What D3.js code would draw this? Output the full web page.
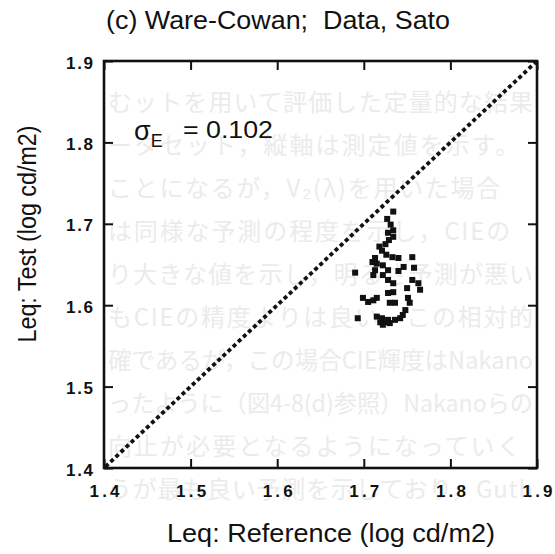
<!DOCTYPE html>
<html>
<head>
<meta charset="utf-8">
<script src="https://cdn.jsdelivr.net/npm/d3@7"></script>
<style>
  html, body { margin: 0; padding: 0; background: #fff; }
  svg { display: block; }
  text { font-family: "Liberation Sans", Arial, Helvetica, sans-serif; fill: #111; }
</style>
</head>
<body>
<svg id="chart" width="555" height="554"></svg>
<script>
// ---- data ----
const titleText = "(c) Ware-Cowan;  Data, Sato";
const xLabel = "Leq: Reference (log cd/m2)";
const yLabel = "Leq: Test (log cd/m2)";
const sigmaValue = "0.102";
const xTicks = [1.4, 1.5, 1.6, 1.7, 1.8, 1.9];
const yTicks = [1.4, 1.5, 1.6, 1.7, 1.8, 1.9];
const xDomain = [1.4, 1.9];
const yDomain = [1.4, 1.9];
const refX = [1.734, 1.727, 1.731, 1.734, 1.728, 1.734, 1.729, 1.725, 1.718, 1.721,
              1.726, 1.733, 1.740, 1.713, 1.710, 1.715, 1.722, 1.713, 1.711, 1.728,
              1.722, 1.728, 1.734, 1.740, 1.746, 1.756, 1.758, 1.756, 1.690, 1.750,
              1.763, 1.765, 1.699, 1.705, 1.711, 1.715, 1.728, 1.734, 1.730, 1.736,
              1.751, 1.753, 1.748, 1.745, 1.742, 1.693, 1.715, 1.721, 1.725, 1.719,
              1.728, 1.722, 1.730, 1.736];
const testY = [1.715, 1.706, 1.699, 1.692, 1.689, 1.684, 1.680, 1.675, 1.672, 1.667,
               1.662, 1.659, 1.658, 1.658, 1.653, 1.651, 1.649, 1.643, 1.637, 1.643,
               1.637, 1.631, 1.627, 1.642, 1.647, 1.659, 1.646, 1.631, 1.640, 1.621,
               1.627, 1.619, 1.609, 1.604, 1.606, 1.609, 1.615, 1.616, 1.603, 1.603,
               1.609, 1.603, 1.594, 1.588, 1.584, 1.584, 1.586, 1.584, 1.579, 1.579,
               1.582, 1.576, 1.578, 1.582];
// faint text showing through the scanned page
const bgLines = [
  "むットを用いて評価した定量的な結果",
  "ータセット，縦軸は測定値を示す。",
  "ことになるが，V\u2082(λ)を用いた場合",
  "は同様な予測の程度を示し，CIEの",
  "り大きな値を示し，明るさ予測が悪い",
  "もCIEの精度よりは良い。この相対的",
  "確であるが，この場合CIE輝度はNakano",
  "ったように（図4-8(d)参照）Nakanoらの",
  "向止が必要となるようになっていく",
  "うが最も良い予測を示しており，Guth"
];

// ---- layout ----
const W = 555, H = 554;
const m = { left: 104, right: 18, top: 61, bottom: 86 };
const svg = d3.select("#chart");

const x = d3.scaleLinear().domain(xDomain).range([m.left, W - m.right]);
const y = d3.scaleLinear().domain(yDomain).range([H - m.bottom, m.top]);

// bleed-through text
const bgMax = 425;
svg.append("g").selectAll("text").data(bgLines).join("text")
  .attr("x", 108)
  .attr("y", (d, i) => 111 + i * 43)
  .style("font-family", "'Noto Sans CJK JP', sans-serif")
  .style("font-size", "24px")
  .style("fill", "#ebebeb")
  .text(d => d)
  .each(function () {
    const L = this.getComputedTextLength();
    const target = Math.min(bgMax, L * 1.08);
    d3.select(this).attr("textLength", target)
      .attr("lengthAdjust", L > bgMax ? "spacingAndGlyphs" : "spacing");
  });

// title
svg.append("text")
  .attr("x", 106).attr("y", 29)
  .attr("textLength", 344).attr("lengthAdjust", "spacingAndGlyphs")
  .style("font-size", "25px")
  .style("white-space", "pre")
  .attr("xml:space", "preserve")
  .text(titleText);

// axes
const tickFont = g => g.selectAll("text")
  .style("font-family", "'Liberation Sans', Arial, sans-serif")
  .style("font-size", "17px").style("font-weight", "bold").style("fill", "#111");
const tickLines = g => g.selectAll("line").attr("stroke", "#111").attr("stroke-width", 2);

svg.append("g").attr("transform", `translate(0,${y(yDomain[0])})`)
  .call(d3.axisBottom(x).tickValues(xTicks).tickFormat(d3.format(".1f")).tickSize(-9).tickPadding(17))
  .call(g => g.select(".domain").remove())
  .call(tickLines).call(tickFont)
  .call(g => g.selectAll("text").attr("textLength", 30).attr("lengthAdjust", "spacing"));

svg.append("g").attr("transform", `translate(0,${y(yDomain[1])})`)
  .call(d3.axisTop(x).tickValues(xTicks).tickFormat("").tickSize(-9))
  .call(g => g.select(".domain").remove())
  .call(tickLines);

svg.append("g").attr("transform", `translate(${x(xDomain[0])},0)`)
  .call(d3.axisLeft(y).tickValues(yTicks).tickFormat(d3.format(".1f")).tickSize(-9).tickPadding(11))
  .call(g => g.select(".domain").remove())
  .call(tickLines).call(tickFont)
  .call(g => g.selectAll("text").attr("textLength", 27).attr("lengthAdjust", "spacing").attr("dy", "0.42em"));

svg.append("g").attr("transform", `translate(${x(xDomain[1])},0)`)
  .call(d3.axisRight(y).tickValues(yTicks).tickFormat("").tickSize(-9))
  .call(g => g.select(".domain").remove())
  .call(tickLines);

// frame
svg.append("rect")
  .attr("x", x(xDomain[0])).attr("y", y(yDomain[1]))
  .attr("width", x(xDomain[1]) - x(xDomain[0]))
  .attr("height", y(yDomain[0]) - y(yDomain[1]))
  .attr("fill", "none").attr("stroke", "#111").attr("stroke-width", 2.6);

// 1:1 dotted line
svg.append("line")
  .attr("x1", x(xDomain[0])).attr("y1", y(yDomain[0]))
  .attr("x2", x(xDomain[1])).attr("y2", y(yDomain[1]))
  .attr("stroke", "#111").attr("stroke-width", 3.8)
  .attr("stroke-dasharray", "4 3").attr("stroke-dashoffset", -9);

// sigma annotation
const sg = svg.append("text").attr("x", 134).attr("y", 140).style("font-size", "27px");
sg.append("tspan").text("σ");
sg.append("tspan").attr("dy", 7).style("font-size", "18px").text("E");
svg.append("text").attr("x", 183).attr("y", 138)
  .attr("textLength", 90).attr("lengthAdjust", "spacingAndGlyphs")
  .style("font-size", "23px").text("= " + sigmaValue);

// points
const pts = refX.map((v, i) => ({ x: v, y: testY[i] }));
const s = 6;
svg.append("g").selectAll("rect").data(pts).join("rect")
  .attr("x", d => x(d.x) - s / 2).attr("y", d => y(d.y) - s / 2)
  .attr("width", s).attr("height", s).attr("fill", "#111");

// axis titles
svg.append("text")
  .attr("x", 331).attr("y", 542).attr("text-anchor", "middle")
  .attr("textLength", 328).attr("lengthAdjust", "spacingAndGlyphs")
  .style("font-size", "25px").text(xLabel);

svg.append("text")
  .attr("transform", "translate(36,234) rotate(-90)")
  .attr("text-anchor", "middle")
  .attr("textLength", 217).attr("lengthAdjust", "spacingAndGlyphs")
  .style("font-size", "25px").text(yLabel);
</script>
</body>
</html>
